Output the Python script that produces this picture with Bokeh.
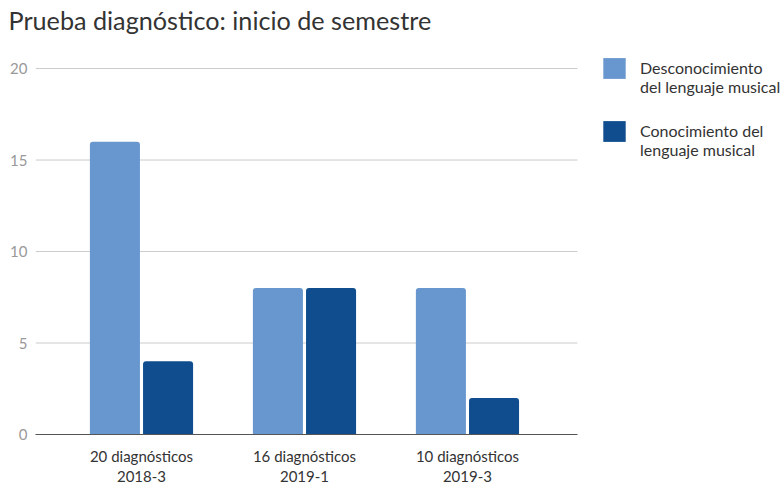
from bokeh.plotting import figure
from bokeh.models import (Range1d, Legend, LegendItem, ColumnDataSource, FixedTicker)
from bokeh.transform import dodge
from bokeh.embed import file_html
from bokeh.resources import INLINE

categories = ["20 diagnósticos\n2018-3", "16 diagnósticos\n2019-1", "10 diagnósticos\n2019-3"]
desconocimiento = [16, 8, 8]
conocimiento = [4, 8, 2]
series_labels = ["Desconocimiento\ndel lenguaje musical", "Conocimiento del\nlenguaje musical"]
y_ticks = [0, 5, 10, 15, 20]
title_text = "Prueba diagnóstico: inicio de semestre"

LIGHT = "#6897cf"
DARK = "#0f4d8e"
FONT = "Lato"

# category positions on the x scale (index of each category)
x_index = list(range(len(categories)))
plot_x_extent = (-0.65, 2.675)      # extent of the plotting area (axis line, grid lines)

src = ColumnDataSource(dict(x=x_index, cat=categories, a=desconocimiento, b=conocimiento))

p = figure(x_range=Range1d(-0.6503, 3.939), y_range=Range1d(0, 21.75),
           width=783, height=487,
           output_backend="svg", toolbar_location=None, title=title_text)
p.min_border_left = 35
p.min_border_right = 0
p.min_border_top = 36
p.min_border_bottom = 53
p.outline_line_color = None

p.title.text_font = FONT
p.title.text_font_size = "25.2px"
p.title.text_font_style = "normal"
p.title.text_color = "#333333"
p.title.offset = -27
p.title.standoff = 4

# horizontal grid lines, limited to the plotting area
p.xgrid.grid_line_color = None
p.ygrid.grid_line_color = None
p.segment(x0=[plot_x_extent[0]] * len(y_ticks), x1=[plot_x_extent[1]] * len(y_ticks),
          y0=y_ticks, y1=y_ticks, line_color="#cccccc", line_width=1)

r1 = p.vbar(x=dodge("x", -0.163), top="a", width=0.307, source=src,
            fill_color=LIGHT, line_color=None, border_radius=[3, 3, 0, 0])
r2 = p.vbar(x=dodge("x", 0.163), top="b", width=0.307, source=src,
            fill_color=DARK, line_color=None, border_radius=[3, 3, 0, 0])

p.yaxis.ticker = FixedTicker(ticks=y_ticks)
p.yaxis.bounds = (y_ticks[0], y_ticks[-1])
p.yaxis.axis_line_color = None
p.yaxis.major_tick_line_color = None
p.yaxis.major_tick_out = 0
p.yaxis.major_tick_in = 0
p.yaxis.minor_tick_line_color = None
p.yaxis.major_label_text_color = "#999999"
p.yaxis.major_label_text_font = FONT
p.yaxis.major_label_text_font_size = "15px"
p.yaxis.major_label_standoff = 8

p.xaxis.ticker = FixedTicker(ticks=x_index)
p.xaxis.major_label_overrides = {i: c for i, c in zip(x_index, categories)}
p.xaxis.bounds = plot_x_extent
p.xaxis.axis_line_color = "#555555"
p.xaxis.major_tick_line_color = None
p.xaxis.minor_tick_line_color = None
p.xaxis.major_tick_out = 0
p.xaxis.major_tick_in = 0
p.xaxis.major_label_text_color = "#333333"
p.xaxis.major_label_text_font = FONT
p.xaxis.major_label_text_font_size = "15px"
p.xaxis.major_label_text_line_height = 1.12
p.xaxis.major_label_standoff = 12

legend_labels = [" \n" + s for s in series_labels]
legend = Legend(items=[LegendItem(label=legend_labels[0], renderers=[r1]),
                       LegendItem(label=legend_labels[1], renderers=[r2])],
                location=(565, 275), border_line_color=None, background_fill_alpha=0,
                padding=0, margin=0, glyph_width=28, glyph_height=26,
                label_standoff=12, spacing=6,
                label_text_font=FONT, label_text_font_size="16px",
                label_text_color="#333333")
p.add_layout(legend)

open("out.html", "w").write(file_html(p, INLINE))
